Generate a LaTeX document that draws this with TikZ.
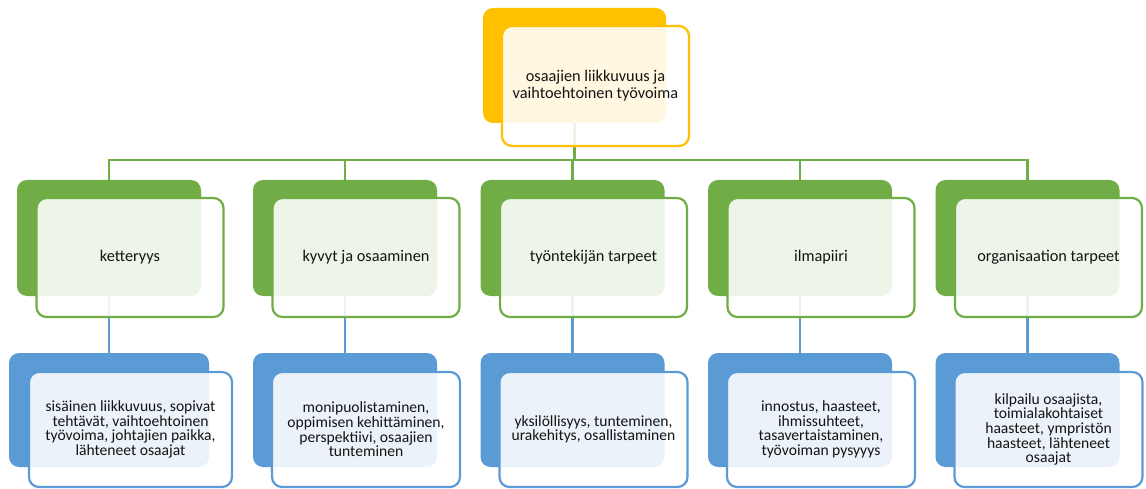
\documentclass[tikz,border=0pt]{standalone}
\usepackage{fontspec}
\setmainfont{Carlito}
\definecolor{gold}{HTML}{FFC000}
\definecolor{leaf}{HTML}{70AD47}
\definecolor{sky}{HTML}{5B9BD5}
\definecolor{ink}{HTML}{141414}
\tikzset{
  backbox/.style={rectangle, rounded corners=10pt, inner sep=0pt, fill=#1, draw=none,
    minimum width=184pt, minimum height=116pt},
  frontbox/.style={rectangle, rounded corners=10pt, inner sep=0pt, fill=white,
    fill opacity=0.88, text opacity=1, draw=#1, draw opacity=1, line width=2.2pt,
    minimum width=187pt, minimum height=119pt, align=center, text=ink},
  headfont/.style={font=\fontsize{16.3}{17}\selectfont},
  itemfont/.style={font=\fontsize{15.6}{14.6}\selectfont},
  link/.style={draw=#1, line width=2.2pt},
}
\begin{document}
\begin{tikzpicture}[x=1pt,y=-1pt]
\useasboundingbox (0,0) rectangle (1146,489);

% back plates
\node[backbox=gold, minimum width=183pt, minimum height=115pt] (topB) at (574.5,65.5) {};
\node[backbox=leaf] (gB1) at (109,238) {};
\node[backbox=leaf] (gB2) at (345,238) {};
\node[backbox=leaf] (gB3) at (572.5,238) {};
\node[backbox=leaf] (gB4) at (800,238) {};
\node[backbox=leaf] (gB5) at (1027.5,238) {};
\node[backbox=sky, minimum width=200pt, minimum height=114pt] (bB1) at (109,410) {};
\node[backbox=sky, minimum height=114pt] (bB2) at (345,410) {};
\node[backbox=sky, minimum height=114pt] (bB3) at (572.5,410) {};
\node[backbox=sky, minimum height=114pt] (bB4) at (800,410) {};
\node[backbox=sky, minimum height=114pt] (bB5) at (1027.5,410) {};

% connectors
\coordinate (bus) at (0,160);
\foreach \i in {1,...,5} {
  \draw[link=leaf] (topB.south) -- (topB.south |- bus) -| (gB\i.north);
  \draw[link=sky] (gB\i.south) -- (bB\i.north);
}

% front cards with text
\node[frontbox=gold, minimum height=120pt, headfont] (topF) at (595.5,86)
  {osaajien liikkuvuus ja\\vaihtoehtoinen työvoima};

\node[frontbox=leaf, headfont] (gF1) at (130,257.5) {ketteryys};
\node[frontbox=leaf, headfont] (gF2) at (366,257.5) {kyvyt ja osaaminen};
\node[frontbox=leaf, headfont] (gF3) at (593.5,257.5) {työntekijän tarpeet};
\node[frontbox=leaf, headfont] (gF4) at (821,257.5) {ilmapiiri};
\node[frontbox=leaf, headfont] (gF5) at (1048.5,257.5) {organisaation tarpeet};

\node[frontbox=sky, minimum width=203pt, minimum height=115pt, itemfont] (bF1) at (130.5,429.5)
  {sisäinen liikkuvuus, sopivat\\tehtävät, vaihtoehtoinen\\työvoima, johtajien paikka,\\lähteneet osaajat};
\node[frontbox=sky, minimum width=188pt, minimum height=115pt, itemfont] (bF2) at (366,429.5)
  {monipuolistaminen,\\oppimisen kehittäminen,\\perspektiivi, osaajien\\tunteminen};
\node[frontbox=sky, minimum width=188pt, minimum height=115pt, itemfont] (bF3) at (593.5,429.5)
  {yksilöllisyys, tunteminen,\\urakehitys, osallistaminen};
\node[frontbox=sky, minimum width=188pt, minimum height=115pt, itemfont] (bF4) at (821,429.5)
  {innostus, haasteet,\\ihmissuhteet,\\tasavertaistaminen,\\työvoiman pysyyys};
\node[frontbox=sky, minimum width=188pt, minimum height=115pt, itemfont] (bF5) at (1048.5,429.5)
  {kilpailu osaajista,\\toimialakohtaiset\\haasteet, ympristön\\haasteet, lähteneet\\osaajat};
\end{tikzpicture}
\end{document}
